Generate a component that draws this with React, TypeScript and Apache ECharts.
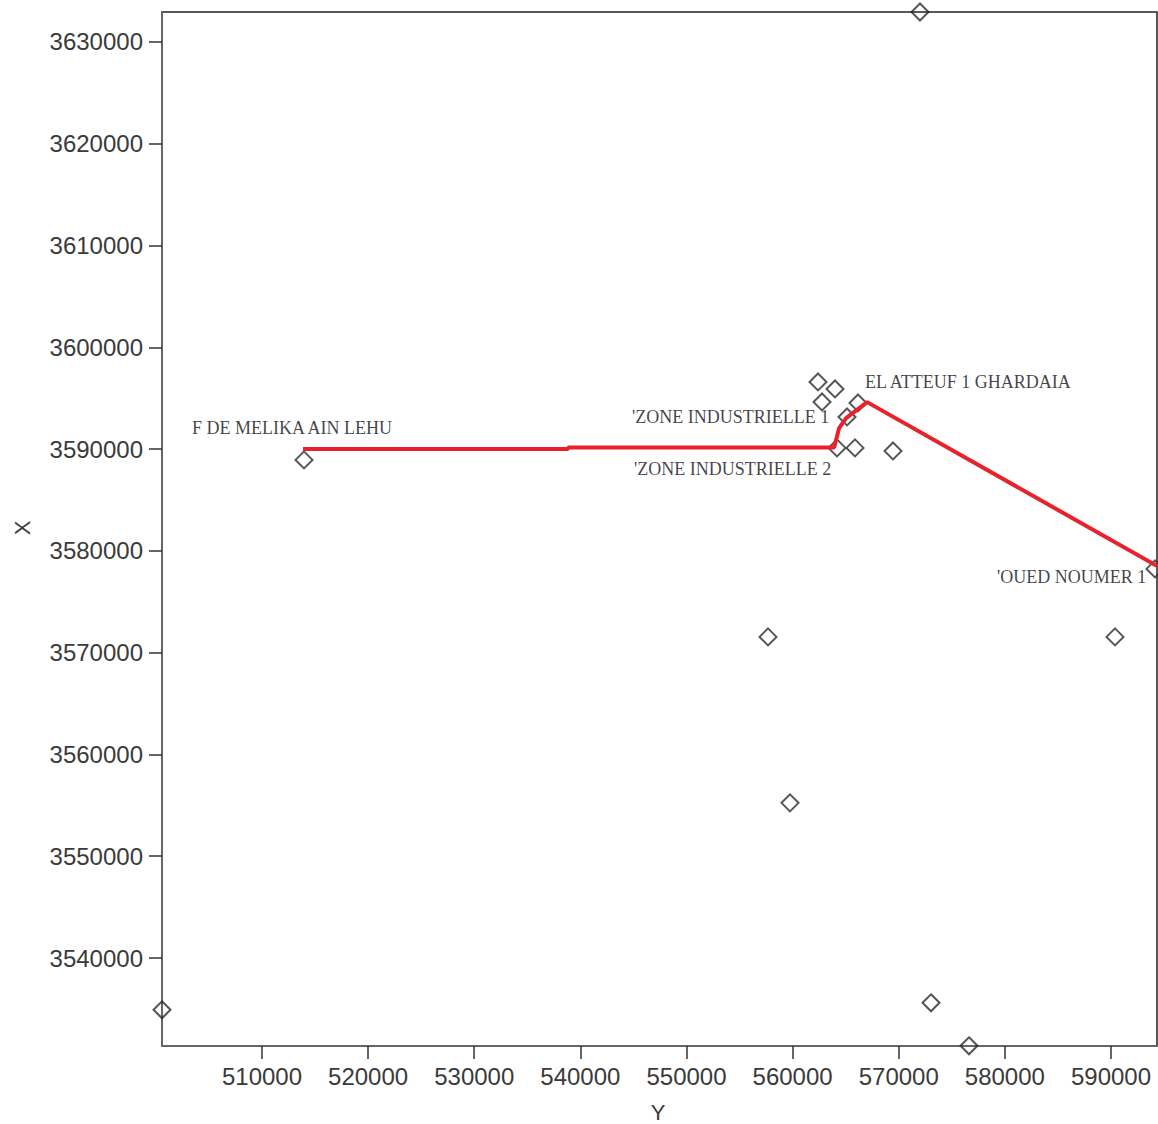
import React, { useEffect, useRef } from "react";
import * as echarts from "echarts";

// Station coordinates: easting (plotted on the "Y" axis) and northing (plotted on the "X" axis)
const stationEasting = [
  500577, 513958, 572003, 562391, 563992, 562768, 565124, 566160, 564182,
  565878, 569458, 594147, 590377, 557680, 559753, 573039, 576620,
];
const stationNorthing = [
  3534912, 3588939, 3632947, 3596601, 3595914, 3594637, 3593163, 3594538,
  3590118, 3590118, 3589823, 3578232, 3571552, 3571552, 3555245, 3535600,
  3531375,
];

// Red traverse line vertices
const routeEasting = [513864, 538841, 538841, 563911, 564383, 565043, 567022, 594354];
const routeNorthing = [3590000, 3590000, 3590147, 3590147, 3592063, 3593044, 3594617, 3578507];

// Site names and their anchor positions
const siteNames = [
  "F DE MELIKA AIN LEHU",
  "'ZONE INDUSTRIELLE 1",
  "'ZONE INDUSTRIELLE 2",
  "EL ATTEUF 1 GHARDAIA",
  "'OUED NOUMER 1",
];
const siteEasting = [503404, 544865, 545053, 566820, 579258];
const siteNorthing = [3592060, 3593140, 3588040, 3596580, 3577430];

// Axis extents, tick values and titles
const eastMin = 500577;
const eastMax = 594335;
const northMin = 3531356;
const northMax = 3632947;
const eastTicks = [510000, 520000, 530000, 540000, 550000, 560000, 570000, 580000, 590000];
const northTicks = [3540000, 3550000, 3560000, 3570000, 3580000, 3590000, 3600000, 3610000, 3620000, 3630000];
const eastTitle = "Y";
const northTitle = "X";

export default function App() {
  const ref = useRef<HTMLDivElement>(null);

  useEffect(() => {
    if (!ref.current) return;
    const chart = echarts.init(ref.current, null, { renderer: "svg" });

    const axisLabel = {
      color: "#3a3a3a",
      fontSize: 24,
      fontFamily: "Liberation Sans, Arial, sans-serif",
      formatter: (v: number) => String(Math.round(v)),
    };
    const titleStyle = {
      fill: "#3a3a3a",
      fontSize: 22,
      fontFamily: "Liberation Sans, Arial, sans-serif",
      align: "center",
      verticalAlign: "middle",
    };

    chart.setOption({
      animation: false,
      backgroundColor: "#ffffff",
      grid: {
        left: 162,
        right: 1,
        top: 12,
        bottom: 78,
        containLabel: false,
        outerBoundsMode: "none",
        show: true,
        borderColor: "#222",
        borderWidth: 1.5,
        backgroundColor: "transparent",
      },
      // Axis titles placed under / beside the plot frame
      graphic: [
        { type: "text", x: 658, y: 1112, style: { text: eastTitle, ...titleStyle } },
        { type: "text", x: 22, y: 528, rotation: Math.PI / 2, style: { text: northTitle, ...titleStyle } },
      ],
      xAxis: {
        type: "value",
        min: eastMin,
        max: eastMax,
        axisLine: { show: true, lineStyle: { color: "#666", width: 2 } },
        axisTick: { show: true, length: 13, customValues: eastTicks, lineStyle: { color: "#333", width: 1.5 } },
        axisLabel: { ...axisLabel, margin: 18, customValues: eastTicks },
        splitLine: { show: false },
      },
      yAxis: {
        type: "value",
        min: northMin,
        max: northMax,
        axisLine: { show: true, lineStyle: { color: "#666", width: 2 } },
        axisTick: { show: true, length: 13, customValues: northTicks, lineStyle: { color: "#333", width: 1.5 } },
        axisLabel: { ...axisLabel, margin: 19, customValues: northTicks },
        splitLine: { show: false },
      },
      series: [
        {
          type: "line",
          data: routeEasting.map((e, i) => [e, routeNorthing[i]]),
          showSymbol: false,
          symbol: "none",
          lineStyle: { color: "#e8212b", width: 4 },
          clip: true,
          z: 3,
        },
        {
          type: "scatter",
          data: stationEasting.map((e, i) => [e, stationNorthing[i]]),
          symbol: "diamond",
          symbolSize: [17, 17],
          itemStyle: { color: "rgba(0,0,0,0)", borderColor: "#2a2a2a", borderWidth: 2 },
          clip: false,
          z: 2,
        },
        {
          type: "scatter",
          data: siteNames.map((n, i) => ({ name: n, value: [siteEasting[i], siteNorthing[i]] })),
          symbolSize: 0,
          silent: true,
          label: {
            show: true,
            position: "right",
            distance: 0,
            formatter: (p: any) => p.name,
            color: "#101018",
            fontSize: 18,
            fontFamily: "Liberation Serif, Times New Roman, serif",
          },
          z: 4,
        },
      ],
    });

    return () => chart.dispose();
  }, []);

  return (
    <div
      ref={ref}
      style={{ position: "absolute", left: 0, top: 0, width: 1158, height: 1124, background: "#fff" }}
    />
  );
}
